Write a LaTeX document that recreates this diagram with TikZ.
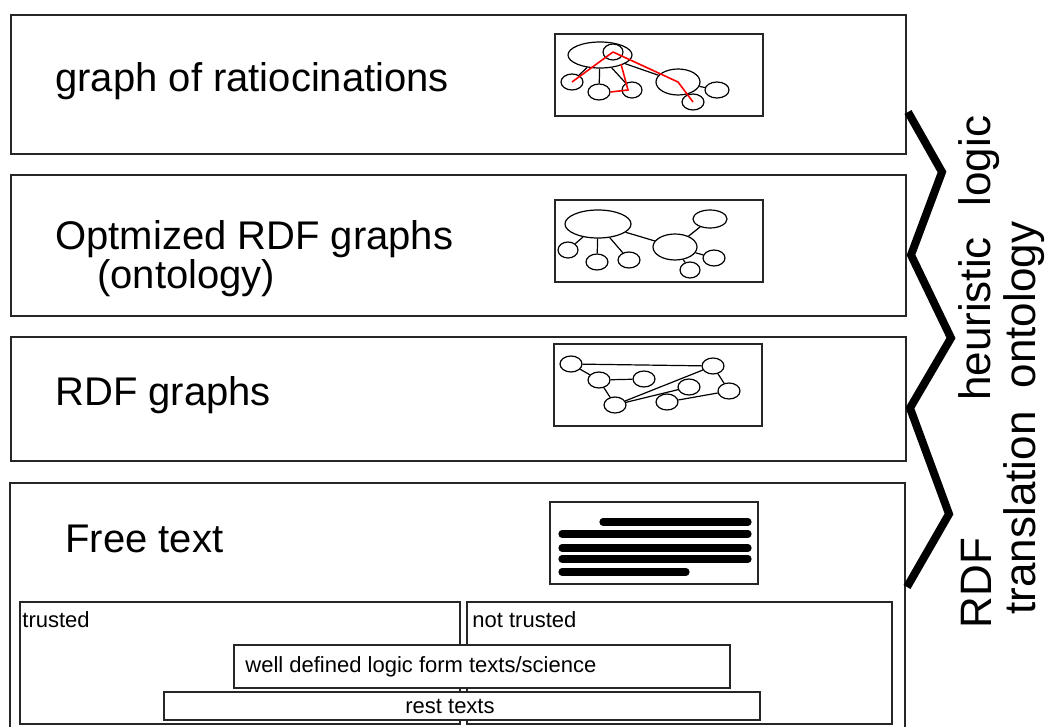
\documentclass[tikz,border=0pt]{standalone}
\usepackage{fontspec}
\setmainfont{Liberation Sans}
\usetikzlibrary{positioning,fit,shapes.geometric}

\begin{document}
\begin{tikzpicture}[x=0.5pt, y=-0.5pt,
  panel/.style={rectangle, draw=black!85, line width=1pt, inner sep=0pt},
  box/.style={rectangle, draw=black!85, line width=1pt, inner sep=0pt, fill=white},
  big/.style={font=\fontsize{20}{24}\selectfont, inner sep=0pt},
  small/.style={font=\fontsize{11}{13}\selectfont, inner sep=0pt},
  side/.style={font=\fontsize{22}{26}\selectfont, inner sep=0pt, rotate=90, anchor=base},
  vx/.style 2 args={ellipse, draw, line width=0.6pt, inner sep=0pt,
                    minimum width=#1pt, minimum height=#2pt},
  e/.style={draw, line width=0.6pt},
  rd/.style={draw=red, line width=0.8pt},
  bar/.style={line width=3.6pt, line cap=round},
  zig/.style={line width=4pt, line join=miter},
]
\useasboundingbox (0,0) rectangle (1045,727);
\clip (0,0) rectangle (1045,727);

% layers
\node[panel, fit={(11,15) (906,154)}]  (ratio) {};
\node[panel, fit={(11,175) (906,316)}] (onto)  {};
\node[panel, fit={(11,337) (906,461)}] (rdf)   {};
\node[panel, fit={(10,483) (905,745)}] (free)  {};

\node[big, anchor=base west] (tratio) at (55,92)  {graph of ratiocinations};
\node[big, anchor=base west] (tonto)  at (55,250) {Optmized RDF graphs};
\node[big, anchor=base west] (tonto2) at (97,289) {(ontology)};
\node[big, anchor=base west] (trdf)   at (55,406) {RDF graphs};
\node[big, anchor=base west] (tfree)  at (65,552) {Free text};

% icon frames
\node[panel, fit={(555,34) (763,116)}]  (fratio) {};
\node[panel, fit={(555,200) (763,282)}] (fonto)  {};
\node[panel, fit={(554,344) (762,426)}] (frdf)   {};
\node[panel, fit={(550,502) (758,584)}] (ffree)  {};

% graph of ratiocinations
\node[vx={32}{13}] (ga) at (600,55) {};
\node[vx={10}{8}]  (gb) at (613,52) {};
\node[vx={11}{8}]  (gc) at (572,82) {};
\node[vx={11}{8}]  (gd) at (599,92) {};
\node[vx={10}{8}]  (ge) at (632,90) {};
\node[vx={22}{13}] (gf) at (678,82) {};
\node[vx={12}{8}]  (gg) at (717,90) {};
\node[vx={11}{8}]  (gh) at (693,102) {};
\draw[e] (ga) -- (gc);
\draw[e] (ga) -- (gd);
\draw[e] (ga) -- (ge);
\draw[e] (ga) -- (gf);
\draw[e] (gf) -- (gg);
\draw[e] (gf) -- (gh);
\draw[rd] (gc.center) -- (gb.center);
\draw[rd] (gb.center) -- (gf.center) -- (gh.center);
\draw[rd] ([xshift=4pt,yshift=-6pt]gb.center) -- ([xshift=-2pt]ge.center) -- (gd.east);

% optimized graphs
\node[vx={33}{14}] (oa) at (598,224) {};
\node[vx={10}{8}]  (ob) at (568,250) {};
\node[vx={11}{8}]  (oc) at (597,262) {};
\node[vx={11}{8}]  (od) at (629,260) {};
\node[vx={22}{13}] (oe) at (675,247) {};
\node[vx={17}{9}]  (of) at (710,219) {};
\node[vx={11}{8}]  (og) at (714,258) {};
\node[vx={10}{8}]  (oh) at (690,270) {};
\foreach \a/\b in {oa/ob, oa/oc, oa/od, oa/oe, oe/of, oe/og, oe/oh}
  \draw[e] (\a) -- (\b);

% rdf graphs
\node[vx={11}{8}] (ra) at (571,364) {};
\node[vx={11}{8}] (rb) at (599,380) {};
\node[vx={11}{8}] (rc) at (644,379) {};
\node[vx={11}{8}] (rd) at (615,405) {};
\node[vx={11}{8}] (re) at (713,366) {};
\node[vx={11}{8}] (rf) at (689,387) {};
\node[vx={11}{8}] (rg) at (729,391) {};
\node[vx={11}{8}] (rh) at (667,402) {};
\foreach \a/\b in {ra/re, ra/rb, rb/rc, rb/rd, rd/re, rd/rf, re/rg, rh/rg}
  \draw[e] (\a) -- (\b);

% free text lines
\draw[bar] (603,522) -- (748,522);
\foreach \y in {534,548,559}
  \draw[bar] (562,\y) -- (748,\y);
\draw[bar] (562,572) -- (686,572);

% trust areas
\node[panel, fit={(20,602) (460,724)}]  (trusted)  {};
\node[panel, fit={(467,602) (892,724)}] (ntrusted) {};
\node[box, fit={(234,645) (730,688)}]   (logicf)   {};
\node[box, fit={(164,692) (760,720)}]   (rest)     {};
\node[small, anchor=base west] (ttrusted)  at (22,627)  {trusted};
\node[small, anchor=base west] (tntrusted) at (472,627) {not trusted};
\node[small, anchor=base west] (tlogicf)   at (245,672) {well defined logic form texts/science};
\node[small, anchor=base]      (trest)     at (450,713) {rest texts};

% zigzag
\coordinate (z0) at (908,112);
\coordinate (z1) at (942,172);
\coordinate (z2) at (911,255);
\coordinate (z3) at (951,338);
\coordinate (z4) at (910,408);
\coordinate (z5) at (949,514);
\coordinate (z6) at (907,587);
\draw[zig] (z0) -- (z1) -- (z2) -- (z3) -- (z4) -- (z5) -- (z6);

\node[side] (slogic) at (990,161)  {logic};
\node[side] (sheur)  at (990,319)  {heuristic};
\node[side] (srdf)   at (991,583)  {RDF};
\node[side] (sonto)  at (1035,305) {ontology};
\node[side] (strans) at (1035,513) {translation};
\end{tikzpicture}
\end{document}
